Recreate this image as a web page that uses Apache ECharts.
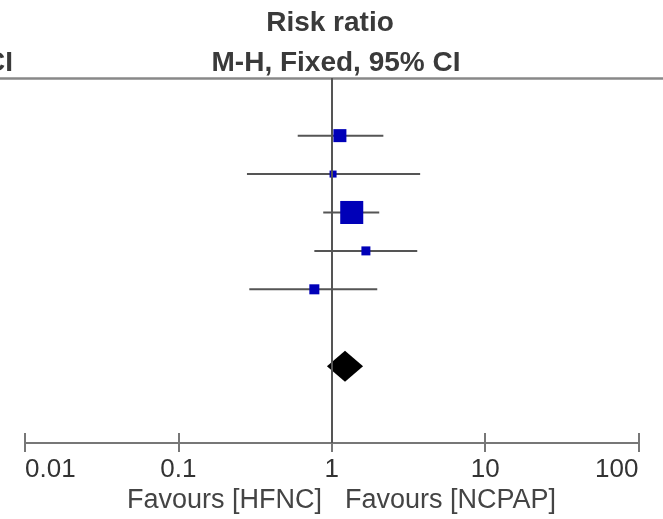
<!DOCTYPE html>
<html>
<head>
    <meta charset="utf-8">
    <script src="https://cdn.jsdelivr.net/npm/echarts@6/dist/echarts.min.js"></script>
    <style>
        html, body { margin: 0; padding: 0; background: #fff; }
    </style>
</head>
<body>
<div id="main" style="width: 663px;height:519px;"></div>
<script type="text/javascript">

    // study rows (1..5) : point estimate, lower / upper 95% CI, weight (%)
    var rows = [1, 2, 3, 4, 5];
    var estimates = [1.13, 1.02, 1.35, 1.67, 0.77];
    var lower = [0.60, 0.28, 0.88, 0.77, 0.29];
    var upper = [2.17, 3.77, 2.04, 3.61, 1.98];
    var weights = [18.2, 5.3, 57.0, 8.7, 10.8];

    // pooled estimate (diamond), drawn on row 7
    var totalRow = 7;
    var totalEst = 1.22;
    var totalLower = 0.93;
    var totalUpper = 1.60;

    var tickLabels = ['0.01', '0.1', '1', '10', '100'];

    var studyData = rows.map(function (r, i) {
        return [r, estimates[i], lower[i], upper[i], weights[i]];
    });

    var myChart = echarts.init(document.getElementById('main'));

    var axisColor = '#777';
    var gridBox = { left: 25, right: 24.5, top: 78, bottom: 76, containLabel: false, outerBoundsMode: 'none' };

    option = {
        animation: false,
        grid: [
            gridBox,
            Object.assign({}, gridBox)   // second grid only carries the upward tick halves
        ],
        xAxis: [
            {
                type: 'log',
                logBase: 10,
                min: 0.01,
                max: 100,
                gridIndex: 0,
                position: 'bottom',
                axisLine: { onZero: false, lineStyle: { color: axisColor, width: 2 } },
                axisTick: { length: 9, lineStyle: { color: axisColor, width: 2 } },
                axisLabel: {
                    fontSize: 26,
                    color: '#333',
                    fontFamily: 'Liberation Sans',
                    margin: 14,
                    alignMinLabel: 'left',
                    alignMaxLabel: 'right',
                    formatter: function (v) {
                        var k = Math.round(Math.log10(v)) + 2;
                        return tickLabels[k];
                    }
                },
                splitLine: { show: false }
            },
            {
                type: 'log',
                logBase: 10,
                min: 0.01,
                max: 100,
                gridIndex: 1,
                position: 'bottom',
                axisLine: { show: false, onZero: false },
                axisTick: { inside: true, length: 10, lineStyle: { color: axisColor, width: 2 } },
                axisLabel: { show: false },
                splitLine: { show: false }
            }
        ],
        yAxis: [
            { type: 'value', min: -0.5, max: 9, inverse: true, show: false, gridIndex: 0 },
            { type: 'value', min: -0.5, max: 9, inverse: true, show: false, gridIndex: 1 }
        ],
        graphic: [
            {
                type: 'line',
                shape: { x1: 0, y1: 78.5, x2: 663, y2: 78.5 },
                style: { stroke: '#888', lineWidth: 2.5 }
            },
            {
                type: 'text', x: 330, y: 23,
                style: { text: 'Risk ratio', fontSize: 28, fontWeight: 'bold', fontFamily: 'Liberation Sans',
                    fill: '#3a3a3a', align: 'center', verticalAlign: 'middle' }
            },
            {
                type: 'text', x: 336, y: 63,
                style: { text: 'M-H, Fixed, 95% CI', fontSize: 28, fontWeight: 'bold', fontFamily: 'Liberation Sans',
                    fill: '#3a3a3a', align: 'center', verticalAlign: 'middle' }
            },
            {
                type: 'text', x: 13, y: 63,
                style: { text: '95% CI', fontSize: 28, fontWeight: 'bold', fontFamily: 'Liberation Sans',
                    fill: '#3a3a3a', align: 'right', verticalAlign: 'middle' }
            },
            {
                type: 'text', x: 322, y: 501,
                style: { text: 'Favours [HFNC]', fontSize: 27, fontFamily: 'Liberation Sans',
                    fill: '#444', align: 'right', verticalAlign: 'middle' }
            },
            {
                type: 'text', x: 345, y: 501,
                style: { text: 'Favours [NCPAP]', fontSize: 27, fontFamily: 'Liberation Sans',
                    fill: '#444', align: 'left', verticalAlign: 'middle' }
            }
        ],
        series: [
            {
                type: 'custom',
                xAxisIndex: 0,
                yAxisIndex: 0,
                encode: { x: [1, 2, 3], y: 0 },
                data: studyData,
                renderItem: function (params, api) {
                    var row = api.value(0);
                    var c = api.coord([api.value(1), row]);
                    var lo = api.coord([api.value(2), row]);
                    var hi = api.coord([api.value(3), row]);
                    var s = Math.sqrt(api.value(4)) * 3.05;
                    return {
                        type: 'group',
                        children: [
                            {
                                type: 'line',
                                shape: { x1: lo[0], y1: c[1], x2: hi[0], y2: c[1] },
                                style: { stroke: '#555', lineWidth: 2 }
                            },
                            {
                                type: 'rect',
                                shape: { x: c[0] - s / 2, y: c[1] - s / 2, width: s, height: s },
                                style: { fill: '#0000b8' }
                            }
                        ]
                    };
                },
                markLine: {
                    silent: true,
                    symbol: 'none',
                    label: { show: false },
                    lineStyle: { color: '#555', width: 2, type: 'solid' },
                    data: [{ xAxis: 1 }]
                },
                z: 3
            },
            {
                type: 'custom',
                xAxisIndex: 0,
                yAxisIndex: 0,
                encode: { x: [1, 2, 3], y: 0 },
                data: [[totalRow, totalEst, totalLower, totalUpper]],
                renderItem: function (params, api) {
                    var row = api.value(0);
                    var c = api.coord([api.value(1), row]);
                    var lo = api.coord([api.value(2), row]);
                    var hi = api.coord([api.value(3), row]);
                    var h = 15.5;
                    return {
                        type: 'polygon',
                        shape: { points: [[lo[0], c[1]], [c[0], c[1] - h], [hi[0], c[1]], [c[0], c[1] + h]] },
                        style: { fill: '#000' }
                    };
                },
                z: 4
            }
        ]
    };

    myChart.setOption(option);

</script>
</body>
</html>
